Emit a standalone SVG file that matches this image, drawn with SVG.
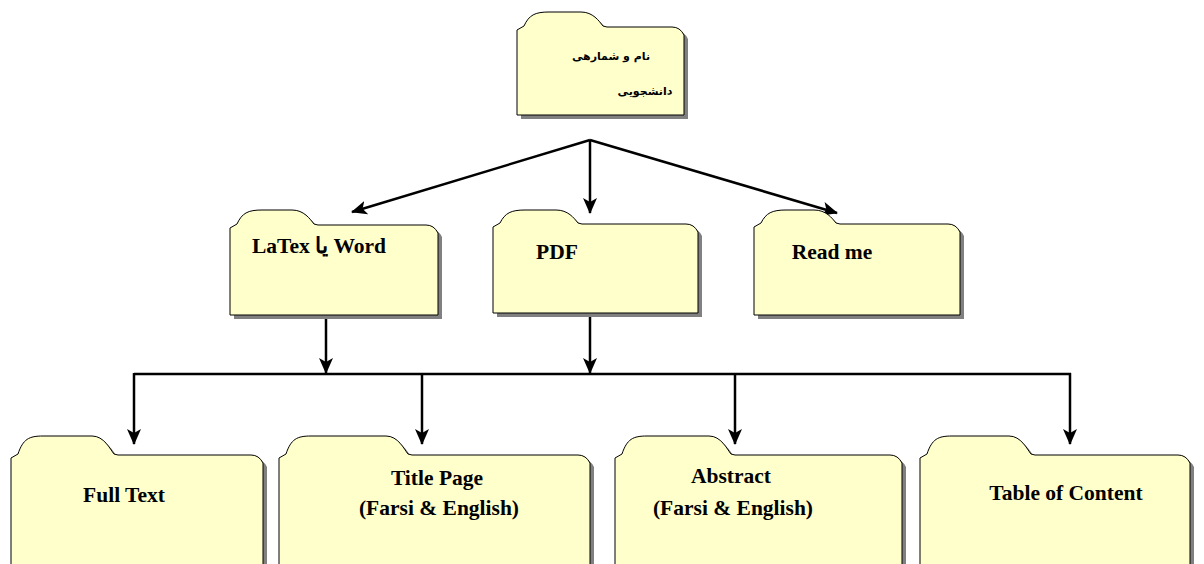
<svg xmlns="http://www.w3.org/2000/svg" xmlns:xlink="http://www.w3.org/1999/xlink" width="1204" height="564" viewBox="0 0 1204 564">
<style>
.folder{fill:#FFFFCC;stroke:#000;stroke-width:1}
.shadow{fill:#808080;stroke:none}
.lbl{font-family:"Liberation Serif","DejaVu Serif",serif;font-weight:bold;font-size:21.5px;fill:#000;text-anchor:middle}
.fa{font-family:"DejaVu Sans","Noto Sans",sans-serif;font-weight:bold;font-size:11px;fill:#000;text-anchor:middle}
.conn{stroke:#000;stroke-width:2.5;fill:none}
</style>
<defs>
<marker id="arr" markerUnits="userSpaceOnUse" markerWidth="16" markerHeight="14" viewBox="0 0 16 14" refX="15" refY="7" orient="auto">
<path d="M0,0 L16,7 L0,14 L4,7 Z" fill="#000"/>
</marker>
<path id="f-top" d="M517,30 L524,26 C529,15 535,12 549,12 L581,12 C593,12 599,21 603,26 L607,27 L672,27 Q680,27 684,35 L684,115 L517,115 Z"/>
<path id="f-word" d="M230,228 L237,224 C242,213 248,210 262,210 L292,210 C304,210 310,219 314,224 L318,225 L426,225 Q434,225 438,233 L438,315 L230,315 Z"/>
<path id="f-pdf" d="M493,227 L500,223 C505,213 511,210 525,210 L556,210 C568,210 574,218 578,223 L582,224 L686,224 Q694,224 698,232 L698,313 L493,313 Z"/>
<path id="f-read" d="M754,227 L761,223 C766,213 772,210 786,210 L814,210 C826,210 832,218 836,223 L840,224 L948,224 Q956,224 960,232 L960,315 L754,315 Z"/>
<path id="f-full" d="M11,458 L18,454 C23,439 29,436 43,436 L92,436 C104,436 110,449 114,454 L118,455 L251,455 Q259,455 263,463 L263,570 L11,570 Z"/>
<path id="f-title" d="M279,458 L286,454 C291,439 297,436 311,436 L386,436 C398,436 404,449 408,454 L412,455 L578,455 Q586,455 590,463 L590,570 L279,570 Z"/>
<path id="f-abs" d="M615,458 L622,454 C627,439 633,436 647,436 L709,436 C721,436 727,449 731,454 L735,455 L890,455 Q898,455 902,463 L902,570 L615,570 Z"/>
<path id="f-toc" d="M920,458 L927,454 C932,439 938,436 952,436 L1009,436 C1021,436 1027,449 1031,454 L1035,455 L1178,455 Q1186,455 1190,463 L1190,570 L920,570 Z"/>
</defs>

<g id="connectors">
<line class="conn" x1="590" y1="140" x2="352" y2="212" marker-end="url(#arr)"/>
<line class="conn" x1="590" y1="140" x2="590" y2="213" marker-end="url(#arr)"/>
<line class="conn" x1="590" y1="140" x2="837" y2="213" marker-end="url(#arr)"/>
<line class="conn" x1="326" y1="302" x2="326" y2="373" marker-end="url(#arr)"/>
<line class="conn" x1="590" y1="302" x2="590" y2="373" marker-end="url(#arr)"/>
<line class="conn" x1="134" y1="374" x2="1071" y2="374"/>
<line class="conn" x1="134" y1="373" x2="134" y2="444" marker-end="url(#arr)"/>
<line class="conn" x1="422" y1="373" x2="422" y2="444" marker-end="url(#arr)"/>
<line class="conn" x1="735" y1="373" x2="735" y2="444" marker-end="url(#arr)"/>
<line class="conn" x1="1070" y1="373" x2="1070" y2="444" marker-end="url(#arr)"/>
</g>

<g id="node-student">
<use xlink:href="#f-top" class="shadow" transform="translate(4,4)"/>
<use xlink:href="#f-top" class="folder"/>
<text class="fa" x="611" y="60">نام و شمارهی</text>
<text class="fa" x="645" y="95">دانشجویی</text>
</g>

<g id="node-word">
<use xlink:href="#f-word" class="shadow" transform="translate(4,4)"/>
<use xlink:href="#f-word" class="folder"/>
<text class="lbl" x="319" y="253">LaTex يا Word</text>
</g>

<g id="node-pdf">
<use xlink:href="#f-pdf" class="shadow" transform="translate(4,4)"/>
<use xlink:href="#f-pdf" class="folder"/>
<text class="lbl" x="557" y="259">PDF</text>
</g>

<g id="node-readme">
<use xlink:href="#f-read" class="shadow" transform="translate(4,4)"/>
<use xlink:href="#f-read" class="folder"/>
<text class="lbl" x="832" y="259">Read me</text>
</g>

<g id="node-fulltext">
<use xlink:href="#f-full" class="shadow" transform="translate(4,4)"/>
<use xlink:href="#f-full" class="folder"/>
<text class="lbl" x="124" y="502">Full Text</text>
</g>

<g id="node-titlepage">
<use xlink:href="#f-title" class="shadow" transform="translate(4,4)"/>
<use xlink:href="#f-title" class="folder"/>
<text class="lbl" x="437" y="485">Title Page</text>
<text class="lbl" x="439" y="515">(Farsi &amp; English)</text>
</g>

<g id="node-abstract">
<use xlink:href="#f-abs" class="shadow" transform="translate(4,4)"/>
<use xlink:href="#f-abs" class="folder"/>
<text class="lbl" x="731" y="483">Abstract</text>
<text class="lbl" x="733" y="515">(Farsi &amp; English)</text>
</g>

<g id="node-toc">
<use xlink:href="#f-toc" class="shadow" transform="translate(4,4)"/>
<use xlink:href="#f-toc" class="folder"/>
<text class="lbl" x="1066" y="500">Table of Content</text>
</g>
</svg>
